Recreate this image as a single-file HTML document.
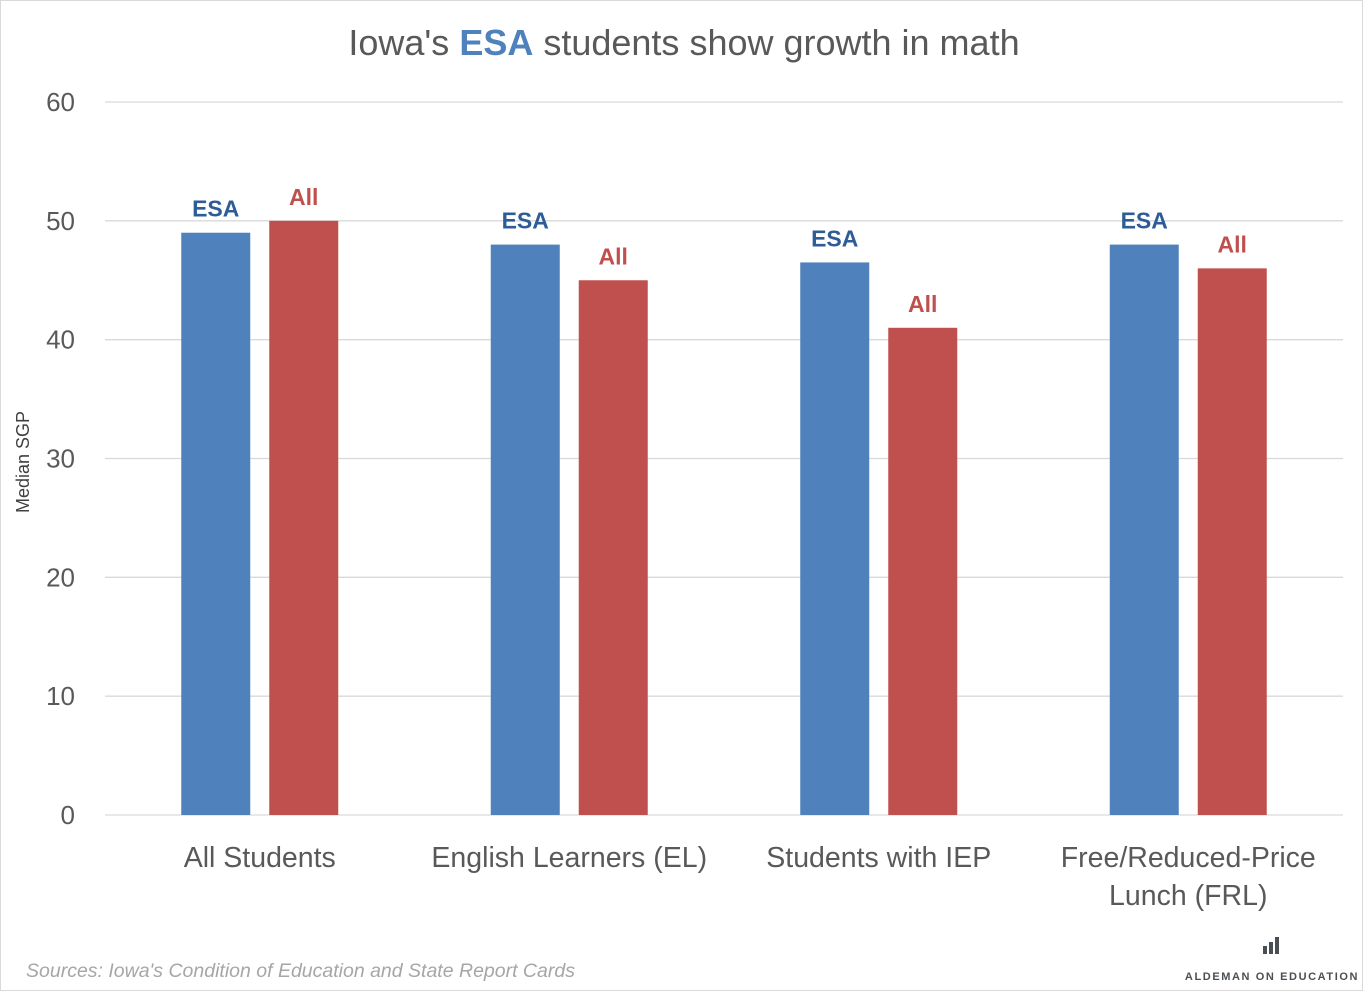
<!DOCTYPE html>
<html><head><meta charset="utf-8"><style>
html,body{margin:0;padding:0;background:#fff;}
svg{display:block;font-family:"Liberation Sans",sans-serif;}
</style></head><body>
<svg id="chart" width="1368" height="994" viewBox="0 0 1368 994">
<rect x="0.5" y="0.5" width="1362" height="990" fill="#fff" stroke="#d9d9d9"/>
<text x="684" y="55" text-anchor="middle" font-size="36" fill="#595959">Iowa's <tspan fill="#4f81bd" font-weight="bold">ESA</tspan> students show growth in math</text>
<g id="grid"></g>
<g id="bars"></g>
<text transform="translate(29,462) rotate(-90)" text-anchor="middle" font-size="18" fill="#404040">Median SGP</text>
<text x="26" y="977" font-size="19.5" font-style="italic" fill="#a6a6a6">Sources: Iowa's Condition of Education and State Report Cards</text>
<g>
<rect x="1263" y="946" width="4" height="8" fill="#4a4f54"/>
<rect x="1269" y="942" width="4" height="12" fill="#4a4f54"/>
<rect x="1275" y="937" width="4" height="17" fill="#4a4f54"/>
<text x="1272" y="980" text-anchor="middle" font-size="11" font-weight="bold" letter-spacing="1.6" fill="#4a4f54">ALDEMAN ON EDUCATION</text>
</g>
</svg>
<script>
const categories=[["All Students"],["English Learners (EL)"],["Students with IEP"],["Free/Reduced-Price","Lunch (FRL)"]];
const esaValues=[49,48,46.5,48];
const allValues=[50,45,41,46];
const yTicks=[0,10,20,30,40,50,60];
const NS="http://www.w3.org/2000/svg";
const x0=105,x1=1343,yBase=815,yTop=102,yMax=60;
const y=v=>yBase-(v/yMax)*(yBase-yTop);
const groupW=(x1-x0)/categories.length;
const gx=i=>x0+groupW*(i+0.5);
function mk(tag,attrs,parent,text){const e=document.createElementNS(NS,tag);for(const k in attrs)e.setAttribute(k,attrs[k]);if(text!==undefined)e.textContent=text;parent.appendChild(e);return e;}
const grid=document.getElementById('grid'),bars=document.getElementById('bars');
yTicks.forEach(t=>{
 const l=mk('line',{x1:x0,x2:x1,y1:y(t),y2:y(t),stroke:'#d9d9d9','stroke-width':1.3},grid);
 
 
 const tx=mk('text',{x:75,y:y(t)+9,'text-anchor':'end','font-size':26,fill:'#595959'},grid,String(t));
 
 
});
const bw=69,gap=19;
categories.forEach((c,i)=>{
 const cx=gx(i);
 [[esaValues[i],'#4f81bd','#2e5c99','ESA',cx-gap/2-bw],[allValues[i],'#c0504d','#c0504d','All',cx+gap/2]].forEach(([v,col,lc,lab,bx])=>{
  const r=mk('rect',{x:bx,y:y(v),width:bw,height:yBase-y(v),fill:col},bars);
  
  
  const t=mk('text',{x:bx+bw/2,y:y(v)-16,'text-anchor':'middle','font-size':23,'font-weight':'bold',fill:lc},bars,lab);
  
  
 });
 c.forEach((line,j)=>{
  const t=mk('text',{x:cx,y:867+j*38,'text-anchor':'middle','font-size':28.5,fill:'#595959'},bars,line);
  
  
 });
});
</script>
</body></html>
